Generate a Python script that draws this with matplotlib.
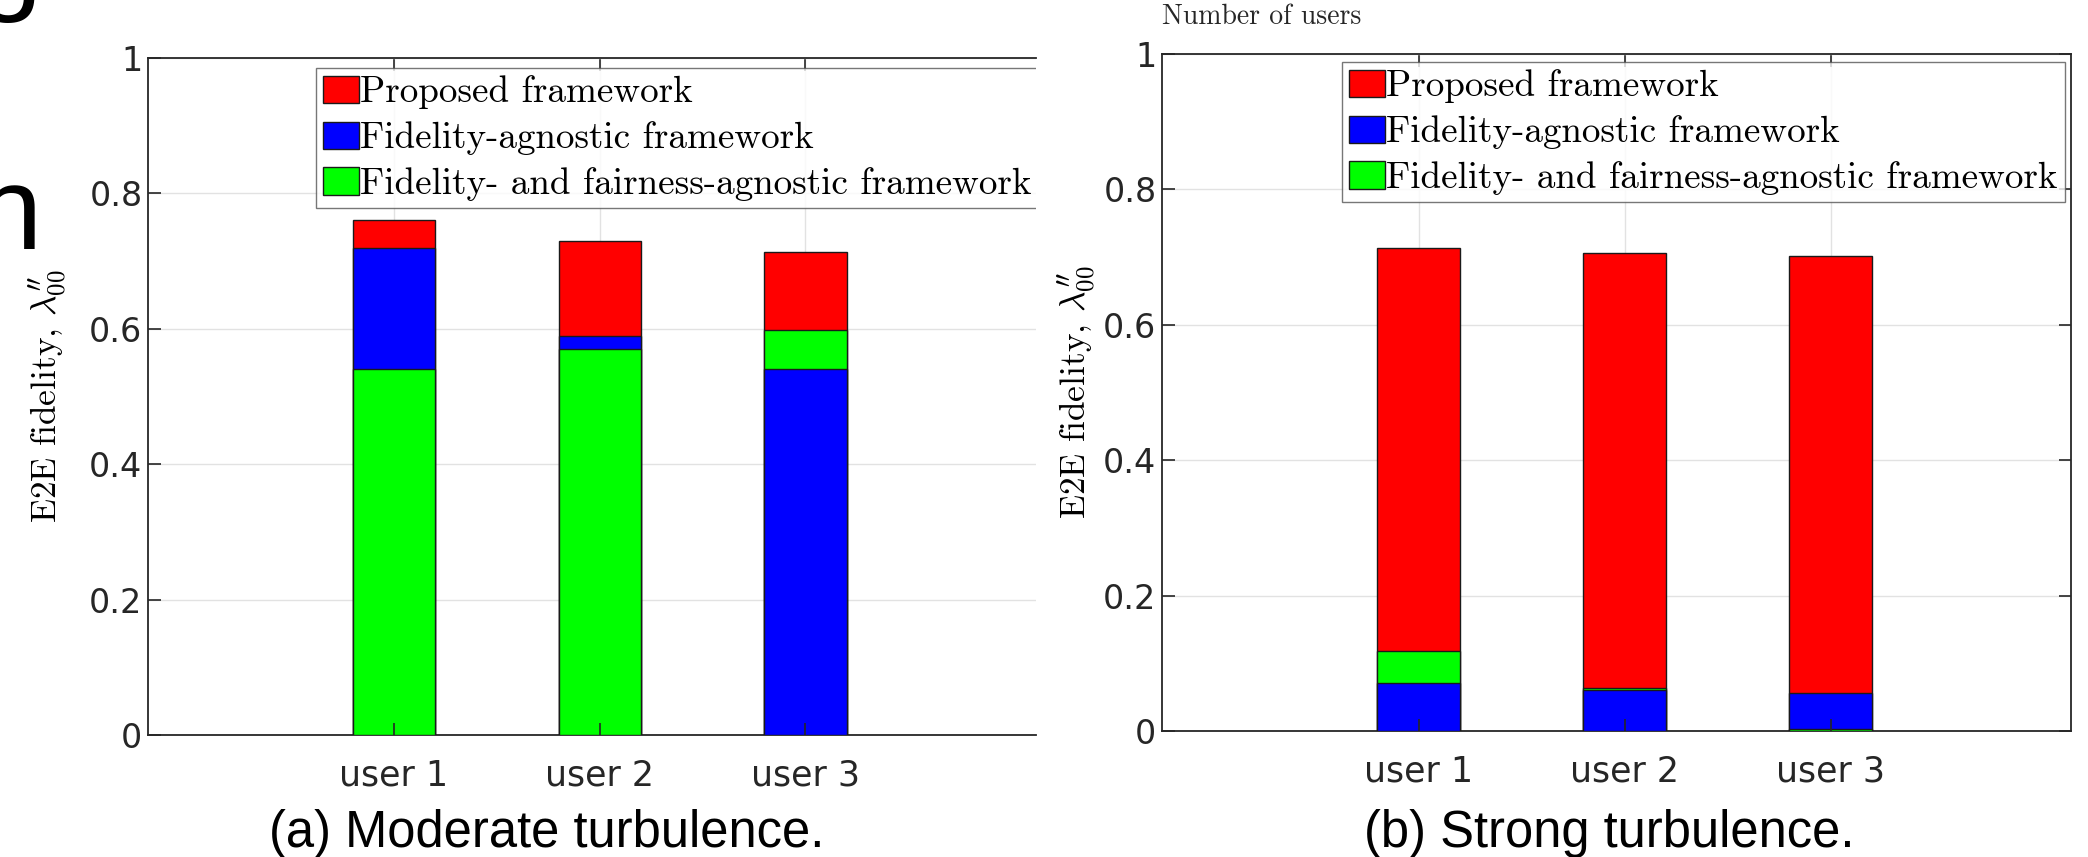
import os
import matplotlib
matplotlib.use("Agg")
import matplotlib.pyplot as plt
from matplotlib.font_manager import FontProperties
from matplotlib.patches import Patch

# ---- data -------------------------------------------------------------
users = ["user 1", "user 2", "user 3"]
series_labels = ["Proposed framework",
                 "Fidelity-agnostic framework",
                 "Fidelity- and fairness-agnostic framework"]
series_colors = ["#ff0000", "#0000ff", "#00ff00"]

moderate_proposed = [0.760, 0.730, 0.714]
moderate_fid_agnostic = [0.720, 0.590, 0.540]
moderate_fid_fair_agnostic = [0.540, 0.570, 0.598]

strong_proposed = [0.714, 0.706, 0.701]
strong_fid_agnostic = [0.071, 0.060, 0.056]
strong_fid_fair_agnostic = [0.118, 0.064, 0.003]

yticks = [0, 0.2, 0.4, 0.6, 0.8, 1]
ytick_labels = ["0", "0.2", "0.4", "0.6", "0.8", "1"]

# ---- style ------------------------------------------------------------
W, H = 2088, 857
DPI = 100
plt.rcParams["mathtext.fontset"] = "cm"
cm_path = os.path.join(matplotlib.get_data_path(), "fonts", "ttf", "cmr10.ttf")
cm_legend = FontProperties(fname=cm_path, size=26.7)
cm_label = FontProperties(fname=cm_path, size=25.5)
cm_small = FontProperties(fname=cm_path, size=20)
axis_col = "#262626"
grid_col = "#e2e2e2"

fig = plt.figure(figsize=(W / DPI, H / DPI), dpi=DPI)


def px_axes(x0, x1, y_top, y_bot):
    return fig.add_axes([x0 / W, (H - y_bot) / H, (x1 - x0) / W, (y_bot - y_top) / H])


def draw_panel(ax, values, xlim, show_right=True):
    x = list(range(1, len(users) + 1))
    for i, xi in enumerate(x):
        vals = [v[i] for v in values]
        order = sorted(range(len(vals)), key=lambda k: -vals[k])
        for rank, k in enumerate(order):
            ax.bar(xi, vals[k], width=0.4, color=series_colors[k],
                   edgecolor="#1a1a1a", linewidth=1.0, zorder=3 + rank)
    ax.set_xlim(*xlim)
    ax.set_ylim(0, 1)
    ax.set_xticks(x)
    ax.set_xticklabels(users)
    ax.set_yticks(yticks)
    ax.set_yticklabels(ytick_labels)
    ax.grid(True, color=grid_col, linewidth=1.0, zorder=0)
    ax.set_axisbelow(True)
    ax.tick_params(direction="in", length=9, width=1.2, color=axis_col,
                   labelcolor=axis_col, labelsize=24, top=True, right=show_right)
    ax.tick_params(axis="x", pad=17, labelsize=25)
    ax.tick_params(axis="y", pad=4)
    for lbl in ax.get_xticklabels() + ax.get_yticklabels():
        lbl.set_family("DejaVu Sans")
    for name, sp in ax.spines.items():
        sp.set_color(axis_col)
        sp.set_linewidth(1.3)
    if not show_right:
        ax.spines["right"].set_visible(False)
    ax.set_ylabel(r"E2E fidelity, $\lambda^{\prime\prime}_{00}$", fontproperties=cm_label)
    # short tick marks at the bar feet, drawn over the bars
    for xi in x:
        ax.plot([xi, xi], [0, 0.018], color=axis_col, lw=1.2, zorder=10,
                clip_on=False, solid_capstyle="butt")


def add_legend(ax, anchor):
    handles = [Patch(facecolor=c, edgecolor="#1a1a1a", linewidth=1.0) for c in series_colors]
    leg = ax.legend(handles, series_labels, prop=cm_legend, loc="upper left",
                    bbox_to_anchor=anchor, frameon=True, fancybox=False,
                    edgecolor="#555555", handlelength=0.95, handleheight=0.75,
                    handletextpad=0.05, labelspacing=0.32, borderpad=0.2,
                    borderaxespad=0.0)
    leg.get_frame().set_linewidth(1.0)
    return leg


# (a) moderate turbulence
ax1 = px_axes(148, 1036, 58, 735)
draw_panel(ax1, [moderate_proposed, moderate_fid_agnostic, moderate_fid_fair_agnostic],
           (-0.196, 4.121), show_right=False)
ax1.yaxis.set_label_coords((69 - 148) / 888, 0.5)
leg1 = add_legend(ax1, ((316 - 148) / 888, (735 - 68) / 677))
# the panel is cut at its right border, legend included
for art in leg1.findobj():
    art.set_clip_on(True)
    art.set_clip_box(ax1.bbox)

# (b) strong turbulence
ax2 = px_axes(1162, 2071, 54, 731)
draw_panel(ax2, [strong_proposed, strong_fid_agnostic, strong_fid_fair_agnostic],
           (-0.245, 4.167), show_right=True)
ax2.yaxis.set_label_coords((1098 - 1162) / 909, 0.5)
add_legend(ax2, ((1342 - 1162) / 909, (731 - 62) / 677))

# sub-captions
cap_family = ["Liberation Sans", "DejaVu Sans"]
fig.text(547 / W, 1 - 847 / H, "(a) Moderate turbulence.", ha="center", va="baseline",
         fontsize=36.5, family=cap_family, color="black")
fig.text(1609 / W, 1 - 847 / H, "(b) Strong turbulence.", ha="center", va="baseline",
         fontsize=36.5, family=cap_family, color="black")

# axis title of the row above
fig.text(1162 / W, 1 - 24 / H, "Number of users", ha="left", va="baseline",
         fontproperties=cm_small, color=axis_col)

# letters of the neighbouring heading at the left margin
fig.text(-25 / W, 1 - 249 / H, "n", ha="left", va="baseline", fontsize=86,
         family=cap_family, color="black")
fig.text(-24 / W, 1 + 2 / H, "g", ha="left", va="baseline", fontsize=86,
         family=cap_family, color="black")

fig.savefig("out.png", dpi=DPI)
